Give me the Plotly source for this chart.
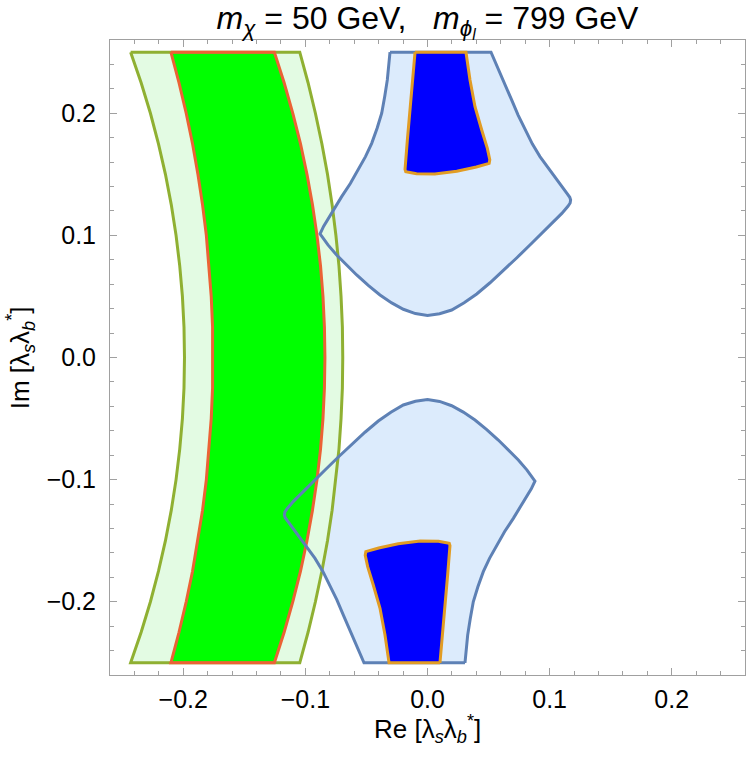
import plotly.graph_objects as go

# ---------------- data ----------------
Y_LEVELS = [0.25, 0.225, 0.2, 0.175, 0.15, 0.125, 0.1, 0.075, 0.05, 0.025, 0.0,
            -0.025, -0.05, -0.075, -0.1, -0.125, -0.15, -0.175, -0.2, -0.225, -0.25]

# wide (light green) band edges
OUTER_LEFT_X = [-0.2431, -0.2345, -0.2269, -0.2203, -0.2146, -0.2098, -0.2059, -0.2029,
                -0.2007, -0.1994, -0.1990, -0.1994, -0.2007, -0.2029, -0.2059, -0.2098,
                -0.2146, -0.2203, -0.2269, -0.2345, -0.2431]
OUTER_RIGHT_X = [-0.1046, -0.0978, -0.0918, -0.0865, -0.0819, -0.0781, -0.0750, -0.0725,
                 -0.0708, -0.0697, -0.0694, -0.0697, -0.0708, -0.0725, -0.0750, -0.0781,
                 -0.0819, -0.0865, -0.0918, -0.0978, -0.1046]
# narrow (bright green) band edges
INNER_LEFT_X = [-0.2101, -0.2035, -0.1976, -0.1924, -0.1880, -0.1842, -0.1811, -0.1788,
                -0.1771, -0.1760, -0.1757, -0.1760, -0.1771, -0.1788, -0.1811, -0.1842,
                -0.1880, -0.1924, -0.1976, -0.2035, -0.2101]
INNER_RIGHT_X = [-0.1254, -0.1174, -0.1103, -0.1040, -0.0987, -0.0942, -0.0905, -0.0876,
                 -0.0856, -0.0844, -0.0840, -0.0844, -0.0856, -0.0876, -0.0905, -0.0942,
                 -0.0987, -0.1040, -0.1103, -0.1174, -0.1254]

# upper light-blue region boundary
UPPER_BLUE_X = [-0.0307, -0.0316, -0.0329, -0.0350, -0.0375, -0.0412, -0.0457, -0.0508,
                -0.0566, -0.0632, -0.0703, -0.0760, -0.0812, -0.0850, -0.0880,
                -0.0815, -0.0744, -0.0662, -0.0580, -0.0485, -0.0389, -0.0293, -0.0198,
                -0.0099, 0.0000, 0.0099, 0.0198, 0.0300, 0.0403, 0.0512, 0.0621,
                0.0730, 0.0839, 0.0935, 0.1031, 0.1100, 0.1150, 0.1168, 0.1172,
                0.1165, 0.1145, 0.1105, 0.1058, 0.0990, 0.0921, 0.0858, 0.0799,
                0.0742, 0.0689, 0.0640, 0.0594, 0.0555, 0.0520]
UPPER_BLUE_Y = [0.2500, 0.2390, 0.2273, 0.2140, 0.2000, 0.1880, 0.1754, 0.1645,
                0.1536, 0.1425, 0.1317, 0.1225, 0.1140, 0.1075, 0.1012,
                0.0922, 0.0839, 0.0755, 0.0676, 0.0590, 0.0512, 0.0447, 0.0395,
                0.0360, 0.0345, 0.0358, 0.0389, 0.0448, 0.0520, 0.0612, 0.0711,
                0.0815, 0.0921, 0.1015, 0.1112, 0.1180, 0.1238, 0.1265, 0.1290,
                0.1312, 0.1340, 0.1395, 0.1454, 0.1548, 0.1645, 0.1750, 0.1863,
                0.1985, 0.2109, 0.2220, 0.2327, 0.2415, 0.2500]

# lower light-blue region boundary
LOWER_BLUE_X = [0.0307, 0.0316, 0.0329, 0.0350, 0.0375, 0.0412, 0.0457, 0.0508,
                0.0566, 0.0632, 0.0703, 0.0760, 0.0812, 0.0850, 0.0880,
                0.0815, 0.0744, 0.0662, 0.0580, 0.0485, 0.0389, 0.0293, 0.0198,
                0.0099, 0.0000, -0.0099, -0.0198, -0.0300, -0.0403, -0.0512, -0.0621,
                -0.0730, -0.0839, -0.0935, -0.1031, -0.1100, -0.1150, -0.1168, -0.1172,
                -0.1165, -0.1145, -0.1105, -0.1058, -0.0990, -0.0921, -0.0858, -0.0799,
                -0.0742, -0.0689, -0.0640, -0.0594, -0.0555, -0.0520]
LOWER_BLUE_Y = [-0.2500, -0.2390, -0.2273, -0.2140, -0.2000, -0.1880, -0.1754, -0.1645,
                -0.1536, -0.1425, -0.1317, -0.1225, -0.1140, -0.1075, -0.1012,
                -0.0922, -0.0839, -0.0755, -0.0676, -0.0590, -0.0512, -0.0447, -0.0395,
                -0.0360, -0.0345, -0.0358, -0.0389, -0.0448, -0.0520, -0.0612, -0.0711,
                -0.0815, -0.0921, -0.1015, -0.1112, -0.1180, -0.1238, -0.1265, -0.1290,
                -0.1312, -0.1340, -0.1395, -0.1454, -0.1548, -0.1645, -0.1750, -0.1863,
                -0.1985, -0.2109, -0.2220, -0.2327, -0.2415, -0.2500]

# upper dark-blue region boundary
UPPER_DARK_X = [-0.0102, 0.0315, 0.0348, 0.0389, 0.0444, 0.0490, 0.0510, 0.0505,
                0.0400, 0.0240, 0.0060, -0.0090, -0.0178, -0.0184, -0.0165, -0.0143, -0.0121]
UPPER_DARK_Y = [0.2500, 0.2500, 0.2273, 0.2054, 0.1863, 0.1713, 0.1620, 0.1590,
                0.1560, 0.1525, 0.1502, 0.1505, 0.1522, 0.1540, 0.1781, 0.2027, 0.2273]

# lower dark-blue region boundary
LOWER_DARK_X = [0.0102, -0.0315, -0.0348, -0.0389, -0.0444, -0.0490, -0.0510, -0.0505,
                -0.0400, -0.0240, -0.0060, 0.0090, 0.0178, 0.0184, 0.0165, 0.0143, 0.0121]
LOWER_DARK_Y = [-0.2500, -0.2500, -0.2273, -0.2054, -0.1863, -0.1713, -0.1620, -0.1590,
                -0.1560, -0.1525, -0.1502, -0.1505, -0.1522, -0.1540, -0.1781, -0.2027, -0.2273]

TICK_VALUES = [-0.2, -0.1, 0.0, 0.1, 0.2]
TICK_LABELS = ["\u22120.2", "\u22120.1", "0.0", "0.1", "0.2"]
AXIS_RANGE = [-0.26, 0.26]

TITLE_TEXT = ("<i>m</i><sub><i>\u03c7</i></sub> = 50 GeV,\u00a0\u00a0 "
              "<i>m</i><sub><i>\u03d5</i><sub><i>l</i></sub></sub> = 799 GeV")
X_TITLE = "Re [\u03bb<sub><i>s</i></sub>\u03bb<sub><i>b</i></sub><sup>*</sup>]"
Y_TITLE = "Im [\u03bb<sub><i>s</i></sub>\u03bb<sub><i>b</i></sub><sup>*</sup>]"

# ---------------- styles ----------------
LIGHT_GREEN = "#E3FBE3"
GREEN = "#00FF00"
OLIVE = "#8FB032"
RED = "#EB6235"
LIGHT_BLUE = "#DCEBFC"
BLUE_LINE = "#5E81B5"
DARK_BLUE = "#0000FF"
ORANGE = "#E19C24"
FRAME = "#A0A0A0"
FONT = "Liberation Sans"
LW = 3


def closed(a):
    return list(a) + [a[0]]


band_outer_x = OUTER_LEFT_X + OUTER_RIGHT_X[::-1]
band_outer_y = Y_LEVELS + Y_LEVELS[::-1]
band_inner_x = INNER_LEFT_X + INNER_RIGHT_X[::-1]
band_inner_y = Y_LEVELS + Y_LEVELS[::-1]

fig = go.Figure()


def fill_trace(x, y, color):
    fig.add_trace(go.Scatter(x=closed(x), y=closed(y), mode="lines", fill="toself",
                             fillcolor=color, line=dict(width=0, color=color),
                             hoverinfo="skip"))


def line_trace(x, y, color):
    fig.add_trace(go.Scatter(x=closed(x), y=closed(y), mode="lines",
                             line=dict(width=LW, color=color), hoverinfo="skip"))


# fills first
fill_trace(UPPER_BLUE_X, UPPER_BLUE_Y, LIGHT_BLUE)
fill_trace(LOWER_BLUE_X, LOWER_BLUE_Y, LIGHT_BLUE)
fill_trace(band_outer_x, band_outer_y, LIGHT_GREEN)
fill_trace(band_inner_x, band_inner_y, GREEN)
# outlines
line_trace(band_outer_x, band_outer_y, OLIVE)
line_trace(band_inner_x, band_inner_y, RED)
line_trace(UPPER_BLUE_X, UPPER_BLUE_Y, BLUE_LINE)
line_trace(LOWER_BLUE_X, LOWER_BLUE_Y, BLUE_LINE)
# dark regions on top
fill_trace(UPPER_DARK_X, UPPER_DARK_Y, DARK_BLUE)
fill_trace(LOWER_DARK_X, LOWER_DARK_Y, DARK_BLUE)
line_trace(UPPER_DARK_X, UPPER_DARK_Y, ORANGE)
line_trace(LOWER_DARK_X, LOWER_DARK_Y, ORANGE)

axis_common = dict(
    range=AXIS_RANGE,
    showline=True, linecolor=FRAME, linewidth=1, mirror="ticks",
    ticks="inside", ticklen=7, tickwidth=1, tickcolor=FRAME,
    tickvals=TICK_VALUES, ticktext=TICK_LABELS,
    tickfont=dict(family=FONT, size=25, color="black"),
    minor=dict(ticks="inside", ticklen=4, tickwidth=1, tickcolor=FRAME,
               dtick=0.02, tick0=0, showgrid=False),
    showgrid=False, zeroline=False, fixedrange=True,
)

fig.update_layout(
    width=746, height=767,
    margin=dict(l=110, r=1, t=40, b=92),
    paper_bgcolor="white", plot_bgcolor="white",
    showlegend=False, hovermode=False,
    title=dict(
        text=TITLE_TEXT,
        x=0.5, xref="paper", xanchor="center",
        y=0.977, yref="container", yanchor="middle",
        font=dict(family=FONT, size=32, color="black"),
    ),
    xaxis=dict(axis_common, ticklabelstandoff=2),
    yaxis=dict(axis_common, ticklabelstandoff=8),
    annotations=[
        dict(text=X_TITLE, xref="paper", yref="paper", x=0.5, y=-0.085,
             xanchor="center", yanchor="middle", showarrow=False,
             font=dict(family=FONT, size=26, color="black")),
        dict(text=Y_TITLE, xref="paper", yref="paper", x=-0.142, y=0.5,
             xanchor="center", yanchor="middle", showarrow=False, textangle=-90,
             font=dict(family=FONT, size=26, color="black")),
    ],
)

fig.write_html("out.html")
